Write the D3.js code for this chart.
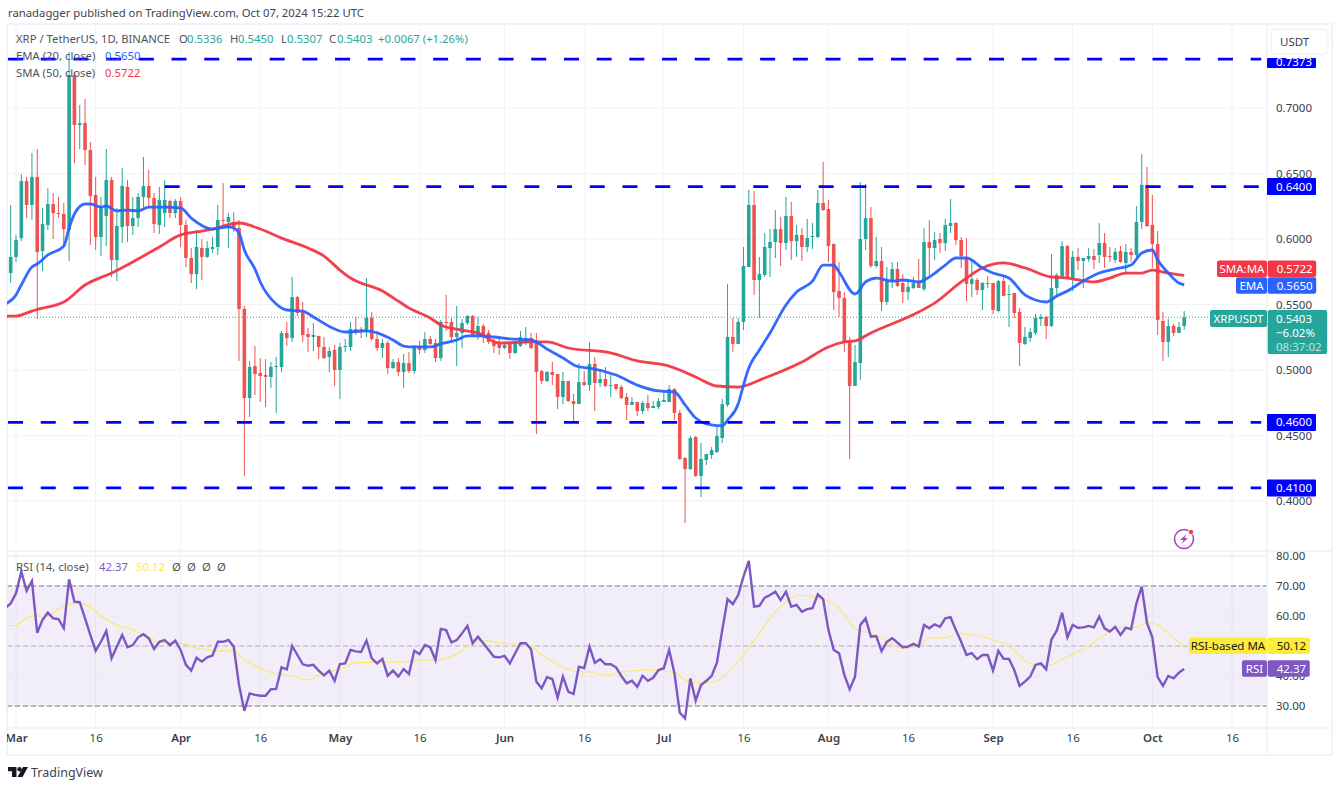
<!DOCTYPE html>
<html>
<head>
<meta charset="utf-8">
<style>
  html, body { margin: 0; padding: 0; background: #fff; }
  svg { display: block; font-family: "Noto Sans", sans-serif; }
  .axis text { fill: #3a3e4a; font-size: 11.5px; font-family: "Noto Sans", sans-serif; }
  .axis .domain { display: none; }
</style>
<script src="https://cdn.jsdelivr.net/npm/d3@7"></script>
</head>
<body>
<script>
var svgWidth = 1342;
var svgHeight = 787;

// candles, one per day, first one is Feb 29 (day -1, day 0 = Mar 1)
var firstCandleDay = -1;
var opens = [
  0.5740,0.5863,0.6007,0.6442,0.6260,0.6474,0.5908,0.6107,0.6267,0.6198,
  0.6191,0.6069,0.7252,0.6870,0.6885,0.6679,0.6336,0.6015,0.6176,0.6450,
  0.5840,0.6092,0.6397,0.6099,0.6160,0.6321,0.6405,0.6313,0.6107,0.6198,
  0.6290,0.6198,0.6290,0.6107,0.5855,0.5732,0.5931,0.5863,0.5924,0.5939,
  0.6145,0.6130,0.6130,0.6084,0.5466,0.4786,0.5030,0.4977,0.4962,0.4947,
  0.5023,0.5023,0.5283,0.5244,0.5557,0.5443,0.5275,0.5252,0.5260,0.5176,
  0.5099,0.5153,0.5000,0.5176,0.5176,0.5313,0.5313,0.5290,0.5397,0.5237,
  0.5168,0.5206,0.5015,0.5061,0.4985,0.5053,0.4992,0.5183,0.5153,0.5237,
  0.5206,0.5091,0.5367,0.5367,0.5252,0.5283,0.5359,0.5412,0.5267,0.5336,
  0.5283,0.5214,0.5199,0.5168,0.5199,0.5130,0.5183,0.5206,0.5244,0.5222,
  0.4992,0.4916,0.4985,0.4969,0.4794,0.4916,0.4763,0.4740,0.4908,0.4885,
  0.5046,0.4901,0.4931,0.4878,0.4893,0.4870,0.4794,0.4733,0.4756,0.4687,
  0.4748,0.4710,0.4718,0.4756,0.4756,0.4855,0.4672,0.4328,0.4244,0.4489,
  0.4191,0.4313,0.4351,0.4374,0.4481,0.4733,0.5252,0.5199,0.5367,0.5786,
  0.6260,0.5687,0.5725,0.5931,0.5977,0.6076,0.5969,0.6176,0.5984,0.6031,
  0.5939,0.6015,0.6015,0.6275,0.6229,0.5961,0.5603,0.5550,0.5214,0.4878,
  0.5053,0.6000,0.6160,0.5794,0.5832,0.5519,0.5679,0.5771,0.5664,0.5595,
  0.5626,0.5664,0.5618,0.5977,0.5931,0.6000,0.5969,0.6099,0.6122,0.5992,
  0.5863,0.5656,0.5687,0.5611,0.5664,0.5664,0.5450,0.5679,0.5573,0.5588,
  0.5443,0.5199,0.5244,0.5283,0.5389,0.5405,0.5336,0.5626,0.5710,0.5946,
  0.5702,0.5863,0.5832,0.5847,0.5870,0.5878,0.5969,0.5870,0.5840,0.5908,
  0.5817,0.5901,0.5878,0.6130,0.6413,0.6107,0.5961,0.5374,0.5214,0.5336,
  0.5283,0.5336
];
var highs = [
  0.6260,0.6031,0.6496,0.6474,0.6656,0.6687,0.6237,0.6389,0.6351,0.6321,
  0.6275,0.7427,0.7275,0.7023,0.7069,0.6740,0.6474,0.6321,0.6687,0.6474,
  0.6237,0.6542,0.6450,0.6321,0.6351,0.6626,0.6527,0.6351,0.6397,0.6450,
  0.6298,0.6305,0.6321,0.6145,0.5931,0.6069,0.6000,0.5984,0.6015,0.6260,
  0.6427,0.6198,0.6206,0.6145,0.5489,0.5069,0.5183,0.5091,0.5084,0.5061,
  0.5099,0.5298,0.5367,0.5710,0.5565,0.5519,0.5321,0.5359,0.5260,0.5252,
  0.5176,0.5191,0.5206,0.5237,0.5367,0.5405,0.5328,0.5702,0.5443,0.5298,
  0.5237,0.5222,0.5084,0.5091,0.5122,0.5138,0.5191,0.5222,0.5290,0.5260,
  0.5237,0.5382,0.5573,0.5397,0.5489,0.5389,0.5420,0.5420,0.5405,0.5351,
  0.5305,0.5244,0.5252,0.5214,0.5206,0.5222,0.5298,0.5328,0.5283,0.5283,
  0.5000,0.4992,0.5061,0.4969,0.4985,0.4916,0.4817,0.5053,0.4992,0.5214,
  0.5099,0.5000,0.5023,0.4962,0.4893,0.4885,0.4824,0.4794,0.4756,0.4763,
  0.4809,0.4763,0.4786,0.4840,0.4885,0.4863,0.4695,0.4336,0.4496,0.4496,
  0.4443,0.4359,0.4412,0.4565,0.4779,0.5656,0.5397,0.5397,0.5939,0.6374,
  0.6366,0.5863,0.6046,0.6076,0.6221,0.6168,0.6321,0.6283,0.6107,0.6084,
  0.6153,0.6122,0.6374,0.6588,0.6298,0.5969,0.5824,0.5595,0.5252,0.5191,
  0.6435,0.6420,0.6244,0.6015,0.5939,0.5786,0.5825,0.5825,0.5732,0.5694,
  0.5710,0.5847,0.6084,0.6145,0.6054,0.6046,0.6153,0.6305,0.6130,0.6015,
  0.6007,0.5847,0.5702,0.5672,0.5717,0.5664,0.5687,0.5710,0.5649,0.5588,
  0.5473,0.5328,0.5321,0.5428,0.5428,0.5413,0.5885,0.5740,0.5984,0.5954,
  0.5908,0.5931,0.5855,0.5931,0.5924,0.6122,0.6046,0.5939,0.5931,0.5946,
  0.5961,0.5931,0.6252,0.6648,0.6550,0.6336,0.6061,0.5443,0.5389,0.5351,
  0.5367,0.5450
];
var lows = [
  0.5664,0.5825,0.5984,0.6160,0.6145,0.5389,0.5755,0.6069,0.6000,0.6160,
  0.5954,0.5832,0.6580,0.6687,0.6565,0.5954,0.5916,0.5870,0.5946,0.5710,
  0.5679,0.5969,0.5977,0.6031,0.6092,0.6237,0.6237,0.6046,0.6038,0.6092,
  0.6160,0.6160,0.5939,0.5786,0.5664,0.5618,0.5687,0.5855,0.5893,0.5878,
  0.6084,0.5931,0.6054,0.5069,0.4191,0.4641,0.4809,0.4756,0.4718,0.4863,
  0.4672,0.4985,0.5183,0.5214,0.5412,0.5214,0.5138,0.5145,0.5084,0.5084,
  0.4985,0.4878,0.4779,0.5138,0.5145,0.5267,0.5244,0.5252,0.5222,0.5145,
  0.5091,0.4969,0.5008,0.4954,0.4863,0.4977,0.4969,0.5122,0.5130,0.5191,
  0.5061,0.5069,0.5298,0.5229,0.5030,0.5168,0.5344,0.5252,0.5229,0.5206,
  0.5199,0.5130,0.5115,0.5160,0.5084,0.5122,0.5176,0.5191,0.5160,0.4511,
  0.4893,0.4908,0.4885,0.4702,0.4740,0.4756,0.4595,0.4740,0.4878,0.4840,
  0.4687,0.4870,0.4870,0.4794,0.4840,0.4779,0.4618,0.4733,0.4649,0.4664,
  0.4687,0.4710,0.4702,0.4756,0.4756,0.4618,0.4313,0.3832,0.4237,0.4183,
  0.4031,0.4275,0.4321,0.4366,0.4443,0.4718,0.5138,0.5199,0.5305,0.5786,
  0.5573,0.5397,0.5710,0.5710,0.5855,0.5794,0.5916,0.5840,0.5863,0.5832,
  0.5901,0.5924,0.6007,0.6214,0.5824,0.5458,0.5405,0.5138,0.4321,0.4878,
  0.4924,0.5916,0.5779,0.5779,0.5450,0.5496,0.5626,0.5634,0.5511,0.5534,
  0.5618,0.5626,0.5603,0.5725,0.5840,0.5893,0.5908,0.6046,0.5954,0.5779,
  0.5526,0.5557,0.5573,0.5458,0.5626,0.5427,0.5443,0.5565,0.5328,0.5397,
  0.5030,0.5191,0.5214,0.5267,0.5336,0.5237,0.5328,0.5573,0.5710,0.5695,
  0.5603,0.5763,0.5626,0.5825,0.5771,0.5817,0.5779,0.5825,0.5817,0.5817,
  0.5740,0.5825,0.5863,0.6076,0.6092,0.5779,0.5267,0.5069,0.5099,0.5260,
  0.5283,0.5307
];
var closes = [
  0.5863,0.5992,0.6442,0.6260,0.6474,0.5901,0.6115,0.6267,0.6198,0.6191,
  0.6076,0.7252,0.6870,0.6885,0.6679,0.6328,0.6015,0.6244,0.6450,0.5840,
  0.6099,0.6405,0.6099,0.6160,0.6321,0.6405,0.6313,0.6115,0.6298,0.6298,
  0.6198,0.6290,0.6107,0.5855,0.5732,0.5939,0.5863,0.5931,0.5939,0.6145,
  0.6137,0.6168,0.6092,0.5466,0.4786,0.5023,0.4969,0.4954,0.4947,0.5023,
  0.5030,0.5283,0.5244,0.5557,0.5435,0.5267,0.5252,0.5267,0.5176,0.5091,
  0.5145,0.5000,0.5176,0.5183,0.5313,0.5290,0.5298,0.5397,0.5237,0.5168,
  0.5206,0.5015,0.5061,0.4985,0.5053,0.4992,0.5183,0.5153,0.5237,0.5199,
  0.5091,0.5367,0.5359,0.5252,0.5283,0.5359,0.5412,0.5267,0.5336,0.5252,
  0.5214,0.5183,0.5168,0.5191,0.5130,0.5206,0.5252,0.5244,0.5168,0.4985,
  0.4916,0.4985,0.4962,0.4794,0.4916,0.4763,0.4740,0.4908,0.4885,0.5046,
  0.4901,0.4931,0.4878,0.4885,0.4855,0.4786,0.4733,0.4756,0.4687,0.4748,
  0.4710,0.4725,0.4763,0.4771,0.4855,0.4672,0.4321,0.4244,0.4481,0.4191,
  0.4321,0.4359,0.4389,0.4496,0.4740,0.5252,0.5199,0.5367,0.5794,0.6260,
  0.5687,0.5732,0.5939,0.5977,0.6076,0.5969,0.6176,0.5984,0.6031,0.5939,
  0.6007,0.6023,0.6275,0.6221,0.5946,0.5595,0.5550,0.5214,0.4878,0.5061,
  0.6000,0.6160,0.5794,0.5832,0.5519,0.5679,0.5771,0.5641,0.5595,0.5634,
  0.5664,0.5626,0.5977,0.5931,0.5992,0.5969,0.6107,0.6122,0.5992,0.5870,
  0.5656,0.5694,0.5611,0.5664,0.5656,0.5458,0.5679,0.5565,0.5580,0.5435,
  0.5206,0.5252,0.5290,0.5397,0.5405,0.5336,0.5626,0.5725,0.5946,0.5702,
  0.5863,0.5832,0.5855,0.5870,0.5840,0.5969,0.5863,0.5863,0.5901,0.5825,
  0.5901,0.5878,0.6130,0.6413,0.6099,0.5961,0.5382,0.5214,0.5336,0.5283,
  0.5328,0.5403
];

// moving averages at these days
var emaDays = [-2,0,1,3,4,6,9,10,11,13,14,16,17,19,21,23,25,28,31,33,37,40,41,42,43,45,46,49,51,54,56,60,62,66,68,71,73,75,78,80,83,85,87,90,93,97,100,103,106,108,113,117,121,124,126,128,130,133,134,136,137,138,140,142,145,147,150,152,154,155,158,160,162,165,167,170,172,175,177,179,182,184,187,190,192,194,196,198,201,204,207,210,212,214,215,217,219,220];
var emaValues = [0.5504,0.5573,0.5649,0.5786,0.5809,0.5878,0.5946,0.6084,0.6191,0.6267,0.6267,0.6244,0.6252,0.6214,0.6221,0.6214,0.6244,0.6244,0.6237,0.6160,0.6076,0.6092,0.6084,0.6046,0.5916,0.5771,0.5672,0.5504,0.5458,0.5450,0.5405,0.5313,0.5290,0.5298,0.5283,0.5229,0.5183,0.5176,0.5176,0.5199,0.5229,0.5260,0.5260,0.5252,0.5237,0.5229,0.5160,0.5091,0.5023,0.5015,0.4962,0.4885,0.4840,0.4832,0.4733,0.4634,0.4588,0.4573,0.4618,0.4740,0.4885,0.5015,0.5153,0.5283,0.5496,0.5595,0.5679,0.5801,0.5801,0.5748,0.5580,0.5672,0.5702,0.5679,0.5687,0.5672,0.5710,0.5801,0.5855,0.5855,0.5779,0.5740,0.5702,0.5573,0.5534,0.5519,0.5565,0.5603,0.5679,0.5740,0.5771,0.5801,0.5893,0.5916,0.5840,0.5740,0.5664,0.5650];
var smaDays = [-2,0,3,5,6,9,13,18,22,27,31,34,37,42,46,50,55,58,61,63,69,72,74,78,80,84,87,91,97,100,104,112,117,123,125,128,132,136,141,148,153,156,158,161,170,173,178,182,186,190,195,198,203,206,209,212,214,216,220];
var smaValues = [0.5412,0.5412,0.5450,0.5473,0.5481,0.5519,0.5649,0.5740,0.5825,0.5939,0.6031,0.6054,0.6076,0.6122,0.6076,0.6007,0.5931,0.5870,0.5763,0.5702,0.5603,0.5526,0.5473,0.5397,0.5344,0.5305,0.5283,0.5206,0.5214,0.5214,0.5168,0.5130,0.5069,0.5030,0.5000,0.4947,0.4878,0.4870,0.4939,0.5061,0.5176,0.5214,0.5222,0.5283,0.5443,0.5511,0.5672,0.5779,0.5817,0.5779,0.5710,0.5702,0.5672,0.5702,0.5740,0.5740,0.5763,0.5748,0.5722];

// RSI, one per day starting at day -2
var firstRsiDay = -2;
var rsiValues = [
  62.6,64.2,67.6,74.8,68.4,71.7,54.4,58.7,61.1,59.2,59.0,55.9,72.2,64.8,64.6,59.2,53.7,48.4,51.4,55.0,
  45.9,49.8,53.7,49.6,50.3,52.9,53.9,52.6,49.0,51.4,52.0,50.3,51.8,48.7,43.7,41.8,46.1,44.8,46.2,46.8,
  51.4,51.4,52.0,49.8,37.0,28.4,34.2,33.7,33.4,33.4,35.6,35.7,42.9,42.2,50.0,47.0,43.9,43.4,43.7,41.8,
  40.2,41.8,38.4,44.0,44.2,48.7,48.2,48.0,51.8,45.9,44.2,45.7,40.1,41.8,39.8,42.3,40.7,48.4,47.3,50.3,
  49.6,45.3,55.7,55.3,51.2,52.0,54.2,56.7,50.9,53.1,50.9,48.7,46.4,46.2,46.7,44.2,47.6,50.9,50.9,48.9,
  38.1,35.9,39.6,39.0,32.8,39.8,34.8,34.0,43.1,42.6,49.8,44.4,45.6,43.9,43.9,42.9,40.0,37.6,38.4,36.4,
  40.1,38.4,39.4,42.0,42.6,48.7,40.9,27.8,25.9,39.2,31.8,37.0,38.4,40.0,44.4,55.3,65.6,64.0,67.0,73.1,
  78.4,63.1,63.4,66.1,67.0,68.1,65.3,68.1,63.1,63.7,61.4,62.3,62.6,67.2,65.6,55.3,48.7,47.6,40.3,35.6,
  39.8,57.0,59.2,53.1,53.3,48.3,51.4,52.6,51.1,49.6,49.8,50.7,49.8,57.0,55.9,57.2,56.4,59.2,59.6,55.3,
  51.4,47.0,47.6,45.6,47.0,47.0,41.8,48.4,45.7,45.7,42.0,36.7,38.1,39.8,43.7,44.2,42.2,52.2,55.1,61.1,
  52.9,57.0,56.1,56.2,56.7,56.2,59.8,55.9,54.8,56.4,53.7,56.1,55.6,64.2,69.8,57.6,52.9,39.6,36.7,40.0,
  39.2,41.1,42.37
];
var rsiMaDays = [-2,0,2,4,5,8,10,12,14,16,18,22,25,27,31,34,37,41,43,46,49,52,55,57,61,64,69,73,76,79,83,85,88,92,97,99,102,106,108,111,114,119,124,126,129,132,135,137,140,142,146,147,151,155,158,161,163,167,170,172,174,178,183,187,191,194,198,201,205,207,211,213,215,218,220];
var rsiMaValues = [56.7,57.0,59.2,60.1,59.4,62.2,63.9,64.2,62.9,60.0,57.8,55.3,52.9,51.2,50.9,49.4,48.4,48.4,45.3,42.6,40.7,40.0,38.7,40.3,42.3,44.4,44.6,44.6,45.3,45.4,47.3,49.8,51.8,50.9,49.8,47.0,43.9,41.4,41.4,40.3,41.2,42.0,41.1,38.7,37.6,38.3,43.1,47.0,54.2,59.2,65.9,67.0,66.1,62.6,55.9,54.2,52.6,49.2,50.0,52.8,52.6,54.0,52.6,50.0,44.2,43.4,46.4,49.0,53.7,55.9,56.4,57.8,57.0,52.6,50.12];

// horizontal levels and ticks
var levelPrices = [0.7373, 0.64, 0.46, 0.41];
var levelStartDays = [-1.5, 28, -1.5, -1.5];
var levelEndDay = 234.5;
var priceTicks = [0.70, 0.65, 0.60, 0.55, 0.50, 0.45, 0.40];
var rsiTicks = [80, 70, 60, 50, 40, 30];
var rsiDashes = [70, 50, 30];
var timeTickDays = [0, 15, 31, 46, 61, 76, 92, 107, 122, 137, 153, 168, 184, 199, 214, 229];
var timeTickLabels = ["Mar", "16", "Apr", "16", "May", "16", "Jun", "16", "Jul", "16", "Aug", "16", "Sep", "16", "Oct", "16"];

var lastClose = 0.5403;
var lastEma = 0.5650;
var lastSma = 0.5722;
var lastRsi = 42.37;
var lastRsiMa = 50.12;

var green = "#26a69a";
var red = "#ef5350";
var blue = "#0000ff";
var gridColor = "#f2f3f6";
var borderColor = "#eef0f6";

var plotLeft = 7;
var plotRight = 1267;
var frameRight = 1332;
var frameTop = 24;
var paneBottom = 551;
var rsiTop = 557;
var timeTop = 728;
var frameBottom = 755;

var xScale = d3.scaleLinear().domain([0, 229]).range([16, 1232]);
var yPrice = d3.scaleLinear().domain([0.40, 0.70]).range([501, 108]);
var yRsi = d3.scaleLinear().domain([30, 70]).range([706, 586]);

var svg = d3.select("body").append("svg")
  .attr("width", svgWidth)
  .attr("height", svgHeight);

svg.append("defs").append("clipPath").attr("id", "priceClip").append("rect")
  .attr("x", plotLeft).attr("y", frameTop).attr("width", plotRight - plotLeft).attr("height", paneBottom - frameTop);
svg.select("defs").append("clipPath").attr("id", "rsiClip").append("rect")
  .attr("x", plotLeft).attr("y", rsiTop).attr("width", plotRight - plotLeft).attr("height", timeTop - rsiTop);
svg.select("defs").append("clipPath").attr("id", "timeClip").append("rect")
  .attr("x", plotLeft).attr("y", timeTop).attr("width", plotRight - plotLeft).attr("height", frameBottom - timeTop);

// grid first
svg.append("g").selectAll("line").data(timeTickDays).enter().append("line")
  .attr("x1", d => xScale(d)).attr("x2", d => xScale(d))
  .attr("y1", frameTop).attr("y2", timeTop)
  .attr("stroke", gridColor).attr("stroke-width", 1);
svg.append("g").selectAll("line").data(priceTicks).enter().append("line")
  .attr("x1", plotLeft).attr("x2", plotRight)
  .attr("y1", d => yPrice(d)).attr("y2", d => yPrice(d))
  .attr("stroke", gridColor).attr("stroke-width", 1);

// RSI band
svg.append("rect")
  .attr("x", plotLeft).attr("width", plotRight - plotLeft)
  .attr("y", yRsi(70)).attr("height", yRsi(30) - yRsi(70))
  .attr("fill", "#7e57c2").attr("fill-opacity", 0.1);
svg.append("g").selectAll("line").data(rsiTicks).enter().append("line")
  .attr("x1", plotLeft).attr("x2", plotRight)
  .attr("y1", d => yRsi(d)).attr("y2", d => yRsi(d))
  .attr("stroke", "#e9e8f1").attr("stroke-width", 1);
svg.append("g").selectAll("line").data(rsiDashes).enter().append("line")
  .attr("x1", plotLeft).attr("x2", plotRight)
  .attr("y1", d => yRsi(d)).attr("y2", d => yRsi(d))
  .attr("stroke", d => d === 50 ? "#b6b7c0" : "#787b86")
  .attr("stroke-width", 1)
  .attr("stroke-dasharray", "5 3");

// frame
svg.append("rect")
  .attr("x", plotLeft).attr("y", frameTop)
  .attr("width", frameRight - plotLeft).attr("height", frameBottom - frameTop)
  .attr("fill", "none").attr("stroke", borderColor).attr("stroke-width", 1.5);
svg.append("line").attr("x1", plotLeft).attr("x2", frameRight).attr("y1", paneBottom).attr("y2", paneBottom)
  .attr("stroke", borderColor).attr("stroke-width", 1.5);
svg.append("line").attr("x1", plotLeft).attr("x2", frameRight).attr("y1", timeTop).attr("y2", timeTop)
  .attr("stroke", borderColor).attr("stroke-width", 1.5);
svg.append("line").attr("x1", plotRight).attr("x2", plotRight).attr("y1", frameTop).attr("y2", frameBottom)
  .attr("stroke", borderColor).attr("stroke-width", 1.5);

// last price dotted line
var pricePane = svg.append("g").attr("clip-path", "url(#priceClip)");
pricePane.append("line")
  .attr("x1", plotLeft).attr("x2", 1210)
  .attr("y1", yPrice(lastClose)).attr("y2", yPrice(lastClose))
  .attr("stroke", green).attr("stroke-width", 1).attr("stroke-dasharray", "1 2");

// candles
var candleData = opens.map(function(o, i) {
  return { day: firstCandleDay + i, o: o, h: highs[i], l: lows[i], c: closes[i] };
});
var candleColor = d => d.c >= d.o ? green : red;

pricePane.append("g").selectAll("line").data(candleData).enter().append("line")
  .attr("x1", d => xScale(d.day)).attr("x2", d => xScale(d.day))
  .attr("y1", d => yPrice(d.h)).attr("y2", d => yPrice(d.l))
  .attr("stroke", candleColor).attr("stroke-width", 1);
pricePane.append("g").selectAll("rect").data(candleData).enter().append("rect")
  .attr("x", d => xScale(d.day) - 1.8)
  .attr("width", 3.6)
  .attr("y", d => yPrice(Math.max(d.o, d.c)))
  .attr("height", d => Math.max(1, Math.abs(yPrice(d.o) - yPrice(d.c))))
  .attr("fill", candleColor);

// moving averages
function maLine(days, values, scale) {
  return d3.line()
    .x((d, i) => xScale(days[i]))
    .y(d => scale(d))
    .curve(d3.curveMonotoneX)(values);
}
pricePane.append("path")
  .attr("d", maLine(smaDays, smaValues, yPrice))
  .attr("fill", "none").attr("stroke", "#f23645").attr("stroke-width", 2.8).attr("stroke-opacity", 0.95);
pricePane.append("path")
  .attr("d", maLine(emaDays, emaValues, yPrice))
  .attr("fill", "none").attr("stroke", "#2962ff").attr("stroke-width", 2.8).attr("stroke-opacity", 0.95);

// dashed levels
pricePane.append("g").selectAll("line").data(levelPrices).enter().append("line")
  .attr("x1", (d, i) => xScale(levelStartDays[i]))
  .attr("x2", xScale(levelEndDay))
  .attr("y1", d => yPrice(d)).attr("y2", d => yPrice(d))
  .attr("stroke", blue).attr("stroke-width", 2.8)
  .attr("stroke-dasharray", "15 17.7");

// RSI lines
var rsiPane = svg.append("g").attr("clip-path", "url(#rsiClip)");
rsiPane.append("path")
  .attr("d", maLine(rsiMaDays, rsiMaValues, yRsi))
  .attr("fill", "none").attr("stroke", "#fde96a").attr("stroke-width", 1.2);
rsiPane.append("path")
  .attr("d", d3.line().x((d, i) => xScale(firstRsiDay + i)).y(d => yRsi(d))(rsiValues))
  .attr("fill", "none").attr("stroke", "#7e57c2").attr("stroke-width", 2.4);

// axes
var priceAxis = d3.axisRight(yPrice).tickValues(priceTicks).tickSize(0).tickPadding(9).tickFormat(d3.format(".4f"));
svg.append("g").attr("class", "axis").attr("transform", `translate(${plotRight}, 0)`).call(priceAxis);

var rsiAxis = d3.axisRight(yRsi).tickValues(rsiTicks).tickSize(0).tickPadding(9).tickFormat(d3.format(".2f"));
svg.append("g").attr("class", "axis").attr("transform", `translate(${plotRight}, 0)`).call(rsiAxis);

var timeAxis = d3.axisBottom(xScale).tickValues(timeTickDays).tickSize(0).tickPadding(6)
  .tickFormat((d, i) => timeTickLabels[i]);
var timeGroup = svg.append("g").attr("clip-path", "url(#timeClip)").append("g")
  .attr("class", "axis").attr("transform", `translate(0, ${timeTop})`).call(timeAxis);
timeGroup.selectAll("text").style("font-weight", (d, i) => i % 2 === 0 ? 600 : 400);

// right side labels
function tag(x, y, w, h, fill, label, color, anchor, round) {
  svg.append("rect").attr("x", x).attr("y", y).attr("width", w).attr("height", h)
    .attr("rx", round).attr("fill", fill);
  svg.append("text").attr("x", anchor === "middle" ? x + w / 2 : x + 9).attr("y", y + h / 2 + 4)
    .attr("text-anchor", anchor).attr("font-size", 11.5).attr("fill", color).text(label);
}

levelPrices.forEach(function(p, i) {
  if (i === 0) {
    // this one sits half under the currency button
    svg.append("rect").attr("x", plotRight).attr("y", 58).attr("width", 49).attr("height", 10).attr("rx", 1).attr("fill", blue);
    svg.append("text").attr("x", plotRight + 9).attr("y", 65.5).attr("font-size", 11.5).attr("fill", "#fff").text(d3.format(".4f")(p));
  } else {
    tag(plotRight, yPrice(p) - 8.5, 49, 17, blue, d3.format(".4f")(p), "#fff", "start", 1);
  }
});

tag(1217, 260.5, 50, 16.5, "#f23645", "SMA:MA", "#fff", "middle", 2);
tag(plotRight + 0.7, 260.5, 48.5, 16.5, "#f23645", d3.format(".4f")(lastSma), "#fff", "start", 2);
tag(1236, 277.3, 31, 16.5, "#2962ff", "EMA", "#fff", "middle", 2);
tag(plotRight + 0.7, 277.3, 48.5, 16.5, "#2962ff", d3.format(".4f")(lastEma), "#fff", "start", 2);

tag(1210, 310, 57, 17, green, "XRPUSDT", "#fff", "middle", 2);
svg.append("rect").attr("x", plotRight + 0.7).attr("y", 310).attr("width", 59.5).attr("height", 44).attr("rx", 2).attr("fill", green);
svg.append("text").attr("x", plotRight + 9).attr("y", 323).attr("font-size", 11.5).attr("fill", "#fff").text(d3.format(".4f")(lastClose));
svg.append("text").attr("x", plotRight + 9).attr("y", 337).attr("font-size", 11.5).attr("fill", "#fff").text("\u22126.02%");
svg.append("text").attr("x", plotRight + 9).attr("y", 351).attr("font-size", 11.5).attr("fill", "#bfe5e1").text("08:37:02");

tag(1189, 637.5, 78, 16.5, "#ffeb3b", "RSI-based MA", "#131722", "middle", 2);
tag(plotRight + 0.7, 637.5, 42, 16.5, "#ffeb3b", d3.format(".2f")(lastRsiMa), "#131722", "start", 2);
tag(1242, 660.3, 25, 16.5, "#7e57c2", "RSI", "#fff", "middle", 2);
tag(plotRight + 0.7, 660.3, 42, 16.5, "#7e57c2", d3.format(".2f")(lastRsi), "#fff", "start", 2);

// currency button
svg.append("rect").attr("x", 1271).attr("y", 29).attr("width", 57).attr("height", 25).attr("rx", 4)
  .attr("fill", "#fff").attr("stroke", borderColor);
svg.append("text").attr("x", 1280).attr("y", 46).attr("font-size", 11.5).attr("fill", "#3a3e4a").text("USDT");

// header and legends
svg.append("text").attr("x", 8).attr("y", 17).attr("font-size", 11.3).attr("fill", "#3f434e")
  .text("ranadagger published on TradingView.com, Oct 07, 2024 15:22 UTC");

function legendRow(y, parts) {
  parts.forEach(function(p) {
    svg.append("text").attr("x", p[0]).attr("y", y).attr("font-size", 11.3).attr("fill", p[2]).text(p[1]);
  });
}
var legendGrey = "#50535e";
legendRow(43, [
  [16, "XRP / TetherUS, 1D, BINANCE", legendGrey],
  [179, "O", legendGrey], [187, "0.5336", green],
  [230, "H", legendGrey], [238, "0.5450", green],
  [281, "L", legendGrey], [287, "0.5307", green],
  [329, "C", legendGrey], [337, "0.5403", green],
  [378, "+0.0067 (+1.26%)", green]
]);
legendRow(60, [[16, "EMA (20, close)", legendGrey], [105, "0.5650", "#2962ff"]]);
legendRow(77, [[16, "SMA (50, close)", legendGrey], [105, "0.5722", "#f23645"]]);
legendRow(571, [
  [16, "RSI (14, close)", legendGrey],
  [99, "42.37", "#7e57c2"],
  [136, "50.12", "#ffeb3b"],
  [172, "\u00d8", legendGrey], [187, "\u00d8", legendGrey], [202, "\u00d8", legendGrey], [217, "\u00d8", legendGrey]
]);

// lightning badge
var badge = svg.append("g").attr("transform", "translate(1184, 539)");
badge.append("circle").attr("r", 9.5).attr("fill", "none").attr("stroke", "#ab47bc").attr("stroke-width", 1.6);
badge.append("path").attr("d", "M2.5,-5 L-4,1 L-0.5,1 L-2.5,5 L4,-1 L0.5,-1 Z").attr("fill", "#ab47bc");
badge.append("circle").attr("cx", 7).attr("cy", -7).attr("r", 2.6).attr("fill", "#f23645").attr("stroke", "#fff").attr("stroke-width", 0.8);

// TradingView logo
var logo = svg.append("g").attr("transform", "translate(8, 767)");
logo.append("path").attr("d", "M0,0 H8.5 V10 H4 V4.3 H0 Z").attr("fill", "#131722");
logo.append("circle").attr("cx", 11.5).attr("cy", 2.2).attr("r", 2.2).attr("fill", "#131722");
logo.append("path").attr("d", "M15,0 H20 L14.5,10 H9.5 Z").attr("fill", "#131722");
svg.append("text").attr("x", 31).attr("y", 777).attr("font-size", 12.5).attr("fill", "#3f434e").text("TradingView");
</script>
</body>
</html>
